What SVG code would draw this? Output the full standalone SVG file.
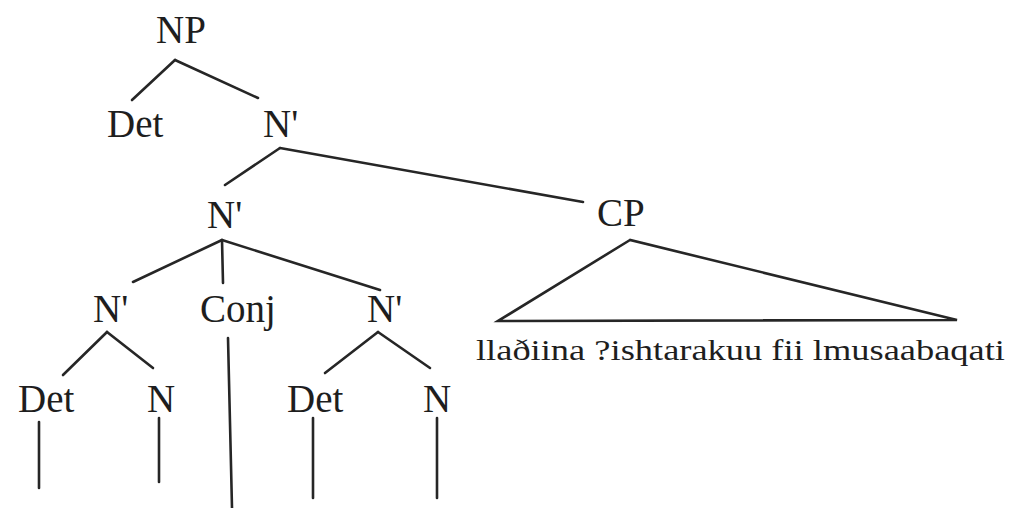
<svg xmlns="http://www.w3.org/2000/svg" width="1017" height="508" viewBox="0 0 1017 508">
<style>
text{font-family:"Liberation Serif","Times New Roman",serif;font-size:39px;fill:#1e1e1e}
.e{stroke:#262626;stroke-width:2.6;fill:none;stroke-linecap:round}
.s{font-size:30px}
</style>
<rect width="1017" height="508" fill="#fff"/>
<g id="connectors">
<line class="e" x1="175" y1="60" x2="132" y2="100"/>
<line class="e" x1="175" y1="60" x2="258" y2="98"/>
<line class="e" x1="280" y1="148" x2="225" y2="185"/>
<line class="e" x1="280" y1="148" x2="583" y2="202"/>
<line class="e" x1="222" y1="240" x2="133" y2="282"/>
<line class="e" x1="222" y1="240" x2="223" y2="283"/>
<line class="e" x1="222" y1="240" x2="380" y2="290"/>
<polygon class="e" points="630,240 498,321 957,320"/>
<line class="e" x1="107" y1="332" x2="63" y2="375"/>
<line class="e" x1="107" y1="332" x2="153" y2="368"/>
<line class="e" x1="378" y1="332" x2="325" y2="373"/>
<line class="e" x1="378" y1="332" x2="430" y2="368"/>
<line class="e" x1="39" y1="422" x2="39" y2="488"/>
<line class="e" x1="159" y1="418" x2="159" y2="482"/>
<line class="e" x1="228" y1="338" x2="232" y2="508"/>
<line class="e" x1="313" y1="418" x2="313" y2="498"/>
<line class="e" x1="437" y1="418" x2="437" y2="498"/>
</g>
<g id="np"><text x="156" y="43">NP</text></g>
<g id="det1"><text x="107" y="137">Det</text></g>
<g id="nbar1"><text x="263" y="137">N'</text></g>
<g id="nbar2"><text x="207" y="228">N'</text></g>
<g id="cp"><text x="597" y="226">CP</text></g>
<g id="nbar3"><text x="93" y="322">N'</text></g>
<g id="conj"><text x="200" y="322">Conj</text></g>
<g id="nbar4"><text x="367" y="322">N'</text></g>
<g id="det2"><text x="18" y="412">Det</text></g>
<g id="n1"><text x="147" y="412">N</text></g>
<g id="det3"><text x="287" y="412">Det</text></g>
<g id="n2"><text x="423" y="412">N</text></g>
<g id="cp-text"><text class="s" x="476" y="360" textLength="529" lengthAdjust="spacingAndGlyphs">llaðiina ?ishtarakuu fii lmusaabaqati</text></g>
</svg>
